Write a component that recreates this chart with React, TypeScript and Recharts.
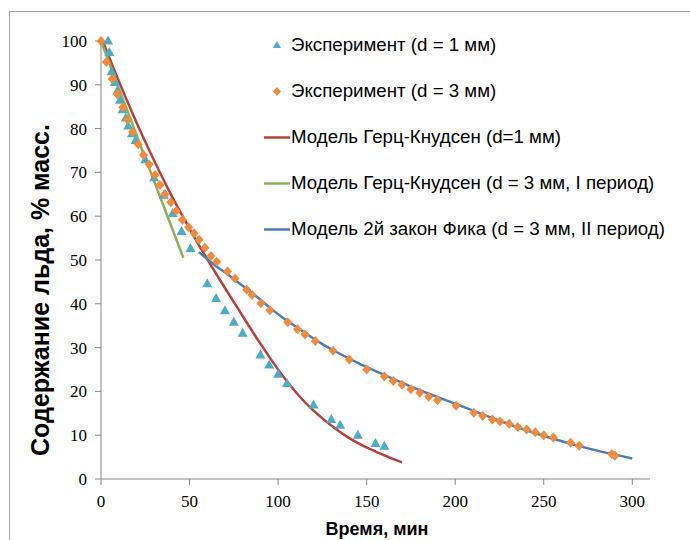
import { ComposedChart, Line, Scatter, XAxis, YAxis } from "recharts";

// Эксперимент, d = 1 мм
const exp1Time = [4, 4.7, 6, 7.8, 9.2, 10.7, 12.2, 14, 15.4, 17.5, 19.5, 25, 30, 35.5, 40.5, 45.5, 50.5, 60, 65, 70, 75, 80, 90, 95, 100, 105, 120, 130, 135, 145, 155, 160];
const exp1Mass = [100, 97.4, 93, 90.5, 88.6, 86.5, 84.3, 82.4, 80.6, 78.8, 77.3, 72.9, 68.8, 64.8, 60.6, 56.5, 52.6, 44.6, 41.2, 38.4, 35.8, 33.3, 28.3, 26, 23.9, 21.8, 16.9, 13.6, 12.3, 10, 8.1, 7.5];

// Эксперимент, d = 3 мм
const exp3Time = [0, 3, 6.3, 9.2, 12.3, 15, 17.8, 21, 24, 27.2, 30.5, 33.3, 36.1, 39.4, 42.4, 46, 49.5, 52.6, 55.4, 58.7, 62.1, 65.3, 71.5, 75.7, 82.3, 85.3, 90.3, 95.4, 105.4, 111, 115.2, 121, 131, 140.2, 150, 160, 165, 170, 175, 180, 185, 190, 200.5, 210.5, 215.5, 221, 225.3, 230.5, 235.3, 240.4, 245.2, 250, 255.4, 265.2, 270, 288.4, 290.2];
const exp3Mass = [100, 95.2, 91.3, 87.9, 84.9, 82.1, 79.2, 76.4, 74, 71.8, 69.4, 67.1, 65, 63.2, 61.2, 59.2, 57.5, 56.1, 54.6, 52.8, 50.9, 49.6, 47.4, 45.8, 43.2, 42, 40.1, 38.5, 35.8, 34.2, 33, 31.5, 29.3, 27.3, 25, 23.4, 22.4, 21.5, 20.5, 19.7, 18.8, 18, 16.7, 15.1, 14.4, 13.6, 13.1, 12.6, 11.9, 11.3, 10.7, 10, 9.5, 8.3, 7.6, 5.7, 5.3];

// Модель Герц-Кнудсен, d = 1 мм
const hk1Time = [1, 5, 10, 18, 25, 33, 40, 45, 53, 61, 70, 76.6, 82, 90, 95, 100, 105, 112, 120, 133, 140, 152, 163, 170];
const hk1Mass = [100, 95.9, 90.9, 83.3, 77, 70.2, 64.6, 60.8, 55, 49.5, 43.6, 39.4, 35.9, 30.9, 27.9, 25, 22.3, 18.9, 15.6, 11.3, 9.4, 6.8, 4.9, 3.8];

// Модель Герц-Кнудсен, d = 3 мм, I период
const hk3Time = [0, 23, 46.5];
const hk3Mass = [100, 75.4, 50.5];

// Модель 2й закон Фика, d = 3 мм, II период
const fickTime = [55.3, 65, 72, 80, 91, 100, 113, 125, 133, 145, 158, 175, 200, 225, 252, 275, 300];
const fickMass = [51.8, 48.6, 46.6, 44.1, 40.6, 37.6, 34, 30.8, 29, 26.5, 24.1, 21.1, 17.2, 13.3, 9.6, 7, 4.7];

const xTicks = [0, 50, 100, 150, 200, 250, 300];
const yTicks = [0, 10, 20, 30, 40, 50, 60, 70, 80, 90, 100];

const seriesNames = [
  "Эксперимент (d = 1 мм)",
  "Эксперимент (d = 3 мм)",
  "Модель Герц-Кнудсен (d=1 мм)",
  "Модель Герц-Кнудсен (d = 3 мм, I период)",
  "Модель 2й закон Фика (d = 3 мм, II период)",
];

const TEAL = "#4BACC6";
const ORANGE = "#F08A3C";
const RED = "#B8403C";
const GREEN = "#8DB255";
const BLUE = "#4A7EBB";
const AXIS = "#868686";

const zip = (t: number[], m: number[]) => t.map((x, i) => ({ t: x, y: m[i] }));

const exp1 = zip(exp1Time, exp1Mass);
const exp3 = zip(exp3Time, exp3Mass);
const hk1 = zip(hk1Time, hk1Mass);
const hk3 = zip(hk3Time, hk3Mass);
const fick = zip(fickTime, fickMass);

const Triangle = (props: any) => {
  const { cx, cy } = props;
  return <polygon points={`${cx},${cy - 5.5} ${cx + 5},${cy + 3.5} ${cx - 5},${cy + 3.5}`} fill={TEAL} />;
};

const Diamond = (props: any) => {
  const { cx, cy } = props;
  return <polygon points={`${cx},${cy - 5} ${cx + 4.5},${cy} ${cx},${cy + 5} ${cx - 4.5},${cy}`} fill={ORANGE} />;
};

const legendIcons = [
  <polygon key="a" points="13,3 17,10 9,10" fill={TEAL} />,
  <polygon key="b" points="13,3 17,7.5 13,12 9,7.5" fill={ORANGE} />,
  <line key="c" x1={0} x2={26} y1={7.5} y2={7.5} stroke={RED} strokeWidth={2.5} />,
  <line key="d" x1={0} x2={26} y1={7.5} y2={7.5} stroke={GREEN} strokeWidth={2.5} />,
  <line key="e" x1={0} x2={26} y1={7.5} y2={7.5} stroke={BLUE} strokeWidth={2.5} />,
];

const tickStyle = { fill: "#000", fontSize: 17, fontFamily: "'Liberation Serif', serif" };

export default function App() {
  return (
    <div style={{ position: "absolute", left: 0, top: 0, width: 690, height: 540, overflow: "hidden", background: "#fff" }}>
      <div style={{ position: "absolute", left: 9, top: 11, width: 720, height: 600, border: "1px solid #a6a6a6" }} />
      <ComposedChart
        width={690}
        height={540}
        margin={{ top: 41, right: 40, bottom: 31, left: 0 }}
        style={{ position: "absolute", left: 0, top: 0 }}
      >
        <XAxis
          type="number"
          dataKey="t"
          domain={[0, 310]}
          ticks={xTicks}
          height={30}
          tickSize={6}
          tickMargin={10}
          stroke={AXIS}
          tick={tickStyle}
          allowDuplicatedCategory={false}
        />
        <YAxis
          type="number"
          dataKey="y"
          domain={[0, 100]}
          ticks={yTicks}
          width={101}
          tickSize={6}
          tickMargin={8}
          stroke={AXIS}
          tick={tickStyle}
        />
        <Line data={hk1} dataKey="y" type="monotone" stroke={RED} strokeWidth={2.5} dot={false} isAnimationActive={false} />
        <Line data={hk3} dataKey="y" type="linear" stroke={GREEN} strokeWidth={2.5} dot={false} isAnimationActive={false} />
        <Line data={fick} dataKey="y" type="monotone" stroke={BLUE} strokeWidth={2.5} dot={false} isAnimationActive={false} />
        <Scatter data={exp1} dataKey="y" shape={Triangle} isAnimationActive={false} />
        <Scatter data={exp3} dataKey="y" shape={Diamond} isAnimationActive={false} />
      </ComposedChart>

      <div style={{ position: "absolute", left: 264, top: 22, fontFamily: "'Liberation Sans', Arial, sans-serif", fontSize: 18.7, color: "#000" }}>
        {seriesNames.map((name, i) => (
          <div key={name} style={{ display: "flex", alignItems: "center", height: 46, whiteSpace: "nowrap" }}>
            <svg width={27} height={15} style={{ flex: "none" }}>
              {legendIcons[i]}
            </svg>
            <span>{name}</span>
          </div>
        ))}
      </div>

      <div
        style={{
          position: "absolute",
          left: 40,
          top: 290,
          transform: "translate(-50%, -50%) rotate(-90deg)",
          whiteSpace: "nowrap",
          fontFamily: "'Liberation Sans', Arial, sans-serif",
          fontWeight: "bold",
          fontSize: 25,
        }}
      >
        Содержание льда, % масс.
      </div>
      <div
        style={{
          position: "absolute",
          left: 377,
          top: 519,
          transform: "translateX(-50%)",
          whiteSpace: "nowrap",
          fontFamily: "'Liberation Sans', Arial, sans-serif",
          fontWeight: "bold",
          fontSize: 18,
        }}
      >
        Время, мин
      </div>
    </div>
  );
}
